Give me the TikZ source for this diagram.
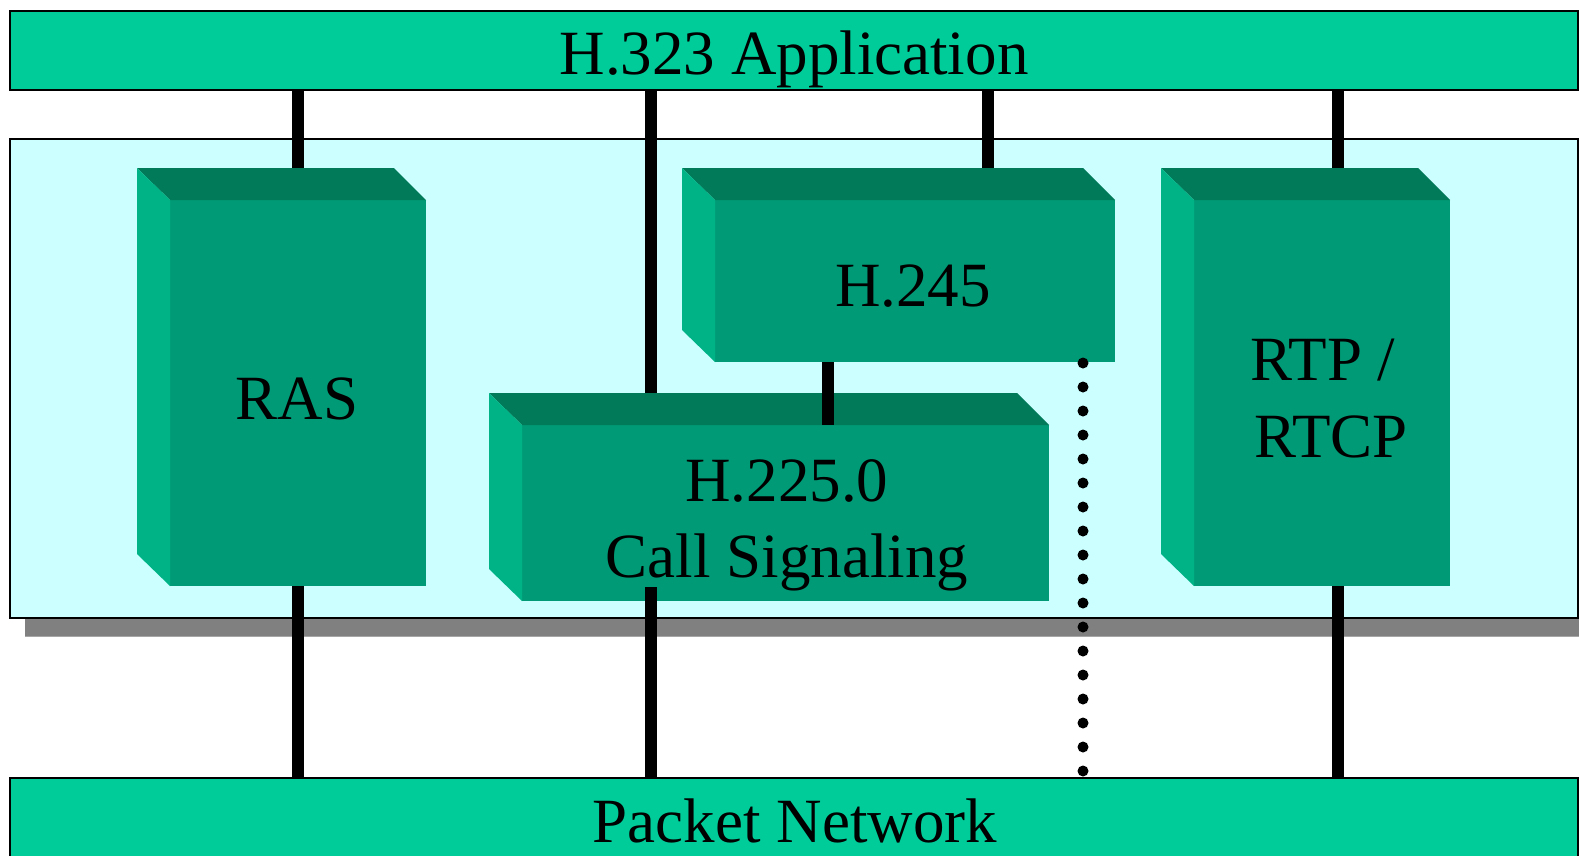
\documentclass[tikz,border=0pt]{standalone}
\usepackage{fontspec}
\setmainfont{Liberation Serif}
\usetikzlibrary{calc}
\definecolor{barcol}{HTML}{00CC99}
\definecolor{panelcol}{HTML}{CCFFFF}
\definecolor{frontcol}{HTML}{009B76}
\definecolor{topcol}{HTML}{007A58}
\definecolor{leftcol}{HTML}{00B386}
\definecolor{shadowcol}{HTML}{808080}
\begin{document}
\begin{tikzpicture}[x=1pt,y=-1pt,
  bar/.style={draw=black, line width=2pt, fill=barcol, inner sep=0pt, outer sep=0pt, anchor=north west},
  panel/.style={draw=black, line width=2pt, fill=panelcol, inner sep=0pt, outer sep=0pt, anchor=north west},
  face/.style={draw=none, fill=frontcol, inner sep=0pt, outer sep=0pt, anchor=south east},
  topface/.style={fill=topcol},
  leftface/.style={fill=leftcol},
  lbl/.style={font=\fontsize{63}{70}\selectfont, inner sep=0pt, anchor=base, text=black},
  conn/.style={line width=12.5pt, draw=black},
  dotconn/.style={line width=11pt, draw=black, line cap=round, dash pattern=on 0pt off 24pt}]
\useasboundingbox (0,0) rectangle (1579,855);
\clip (0,0) rectangle (1579,855);
\fill[white] (0,0) rectangle (1579,855);

% bars and panel
\node[bar, minimum width=1568pt, minimum height=79pt] (app) at (10,11) {};
\fill[shadowcol] (25,619) rectangle (1590,636);
\draw[black!35, line width=1pt] (25,636) -- (1590,636);
\node[panel, minimum width=1568pt, minimum height=479pt] (panel) at (10,139) {};
\node[bar, minimum width=1568pt, minimum height=100pt] (net) at (10,778) {};

% blocks: front faces, with bevel (33 left, 32 up)
\node[face, minimum width=256pt, minimum height=386pt] (rasF) at (426,586) {};
\node[face, minimum width=400pt, minimum height=162pt] (h245F) at (1115,362) {};
\node[face, minimum width=527pt, minimum height=176pt] (h225F) at (1049,601) {};
\node[face, minimum width=256pt, minimum height=386pt] (rtpF) at (1450,586) {};
\foreach \b in {rasF,h245F,h225F,rtpF}{
  \fill[topface] (\b.north west) -- ++(-33,-32) -- ($(\b.north east)+(-32,-32)$) -- (\b.north east) -- cycle;
  \fill[leftface] (\b.north west) -- ++(-33,-32) -- ($(\b.south west)+(-33,-32)$) -- (\b.south west) -- cycle;
}

% connector end points
\coordinate (rasTop) at ($(rasF.north)+(0,-32)$);
\coordinate (sigTop) at (651,393);
\coordinate (sigBot) at (651,587);
\coordinate (h245Top) at (988,168);
\coordinate (link) at (828,362);
\coordinate (rtpTop) at (1338,168);
\coordinate (rtpBot) at (1338,586);
\coordinate (dotTop) at (1083,363);
\coordinate (dotBot) at (1083,771);

% connectors
\draw[conn] (app.south -| rasTop) -- (rasTop);
\draw[conn] (app.south -| sigTop) -- (sigTop);
\draw[conn] (app.south -| h245Top) -- (h245Top);
\draw[conn] (app.south -| rtpTop) -- (rtpTop);
\draw[conn] (link) -- (link |- h225F.north);
\draw[conn] (rasF.south) -- (rasF.south |- net.north);
\draw[conn] (sigBot) -- (sigBot |- net.north);
\draw[conn] (rtpBot) -- (rtpBot |- net.north);
\draw[dotconn] (dotTop) -- (dotBot);

% labels
\node[lbl] (appT) at (794,74) {H.323 Application};
\node[lbl] (rasT) at (297,419) {RAS};
\node[lbl] (h245T) at (913,306) {H.245};
\node[lbl] (h225T) at (787,501) {H.225.0};
\node[lbl] (callT) at (787,577) {Call Signaling};
\node[lbl] (rtpT) at (1323,380) {RTP /};
\node[lbl] (rtcpT) at (1331,457) {RTCP};
\node[lbl] (netT) at (795,842) {Packet Network};
\end{tikzpicture}
\end{document}
